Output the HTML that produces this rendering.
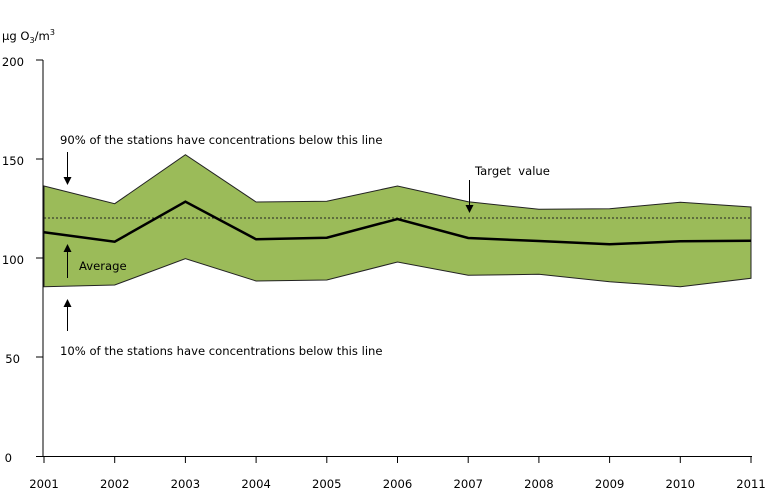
<!DOCTYPE html>
<html><head><meta charset="utf-8"><style>
body{margin:0;background:#fff}
svg{display:block;font-family:"DejaVu Sans","Liberation Sans",sans-serif;font-size:11.6px}
</style></head><body>
<svg width="768" height="490" viewBox="0 0 768 490">
<text x="2" y="40">µg O<tspan font-size="8" dy="3">3</tspan><tspan dy="-3">/m</tspan><tspan font-size="8" dy="-5">3</tspan></text>
<polygon fill="#9bbb59" stroke="#222" stroke-width="1" points="44,186 114.7,203.7 185.4,154.7 256.1,202 326.8,201.3 397.5,186 468.2,201.7 538.9,209.3 609.6,208.7 680.3,202.3 751,207 751,278.3 680.3,286.7 609.6,281.7 538.9,274.3 468.2,275.3 397.5,262 326.8,280 256.1,281 185.4,258.7 114.7,285 44,286.7"/>
<line x1="44" y1="218" x2="751" y2="218" stroke="#222" stroke-width="1" stroke-dasharray="2,2"/>
<polyline fill="none" stroke="#000" stroke-width="2.5" points="44,232.3 114.7,241.7 185.4,201.7 256.1,239.3 326.8,237.7 397.5,219 468.2,238 538.9,241 609.6,244.3 680.3,241.3 751,240.7"/>
<g stroke="#000" stroke-width="1">
<line x1="43" y1="60" x2="43" y2="457"/>
<line x1="36" y1="60" x2="43" y2="60"/><line x1="36" y1="159" x2="43" y2="159"/><line x1="36" y1="258" x2="43" y2="258"/><line x1="36" y1="357" x2="43" y2="357"/><line x1="36" y1="456.5" x2="43" y2="456.5"/>
<line x1="43" y1="456.5" x2="752" y2="456.5"/>
<line x1="44" y1="456" x2="44" y2="463"/><line x1="114.7" y1="456" x2="114.7" y2="463"/><line x1="185.4" y1="456" x2="185.4" y2="463"/><line x1="256.1" y1="456" x2="256.1" y2="463"/><line x1="326.8" y1="456" x2="326.8" y2="463"/><line x1="397.5" y1="456" x2="397.5" y2="463"/><line x1="468.2" y1="456" x2="468.2" y2="463"/><line x1="538.9" y1="456" x2="538.9" y2="463"/><line x1="609.6" y1="456" x2="609.6" y2="463"/><line x1="680.3" y1="456" x2="680.3" y2="463"/><line x1="751" y1="456" x2="751" y2="463"/>
<line x1="67.5" y1="152" x2="67.5" y2="178"/>
<line x1="67.5" y1="252" x2="67.5" y2="278"/>
<line x1="67.5" y1="306" x2="67.5" y2="331"/>
<line x1="469.5" y1="180" x2="469.5" y2="206"/>
</g>
<g fill="#000">
<polygon points="63.5,177 71.5,177 67.5,185"/>
<polygon points="63.5,252 71.5,252 67.5,244"/>
<polygon points="63.5,307 71.5,307 67.5,299"/>
<polygon points="465.5,205 473.5,205 469.5,213"/>
</g>
<g text-anchor="end"><text x="24" y="66">200</text><text x="24" y="165">150</text><text x="24" y="264">100</text><text x="20" y="363">50</text><text x="12" y="462">0</text></g>
<g text-anchor="middle"><text x="44" y="488">2001</text><text x="114.7" y="488">2002</text><text x="185.4" y="488">2003</text><text x="256.1" y="488">2004</text><text x="326.8" y="488">2005</text><text x="397.5" y="488">2006</text><text x="468.2" y="488">2007</text><text x="538.9" y="488">2008</text><text x="609.6" y="488">2009</text><text x="680.3" y="488">2010</text><text x="751" y="488">2011</text></g>
<text x="60" y="144">90% of the stations have concentrations below this line</text>
<text x="79" y="270">Average</text>
<text x="60" y="355">10% of the stations have concentrations below this line</text>
<text x="475" y="175" xml:space="preserve">Target  value</text>
</svg>
</body></html>
